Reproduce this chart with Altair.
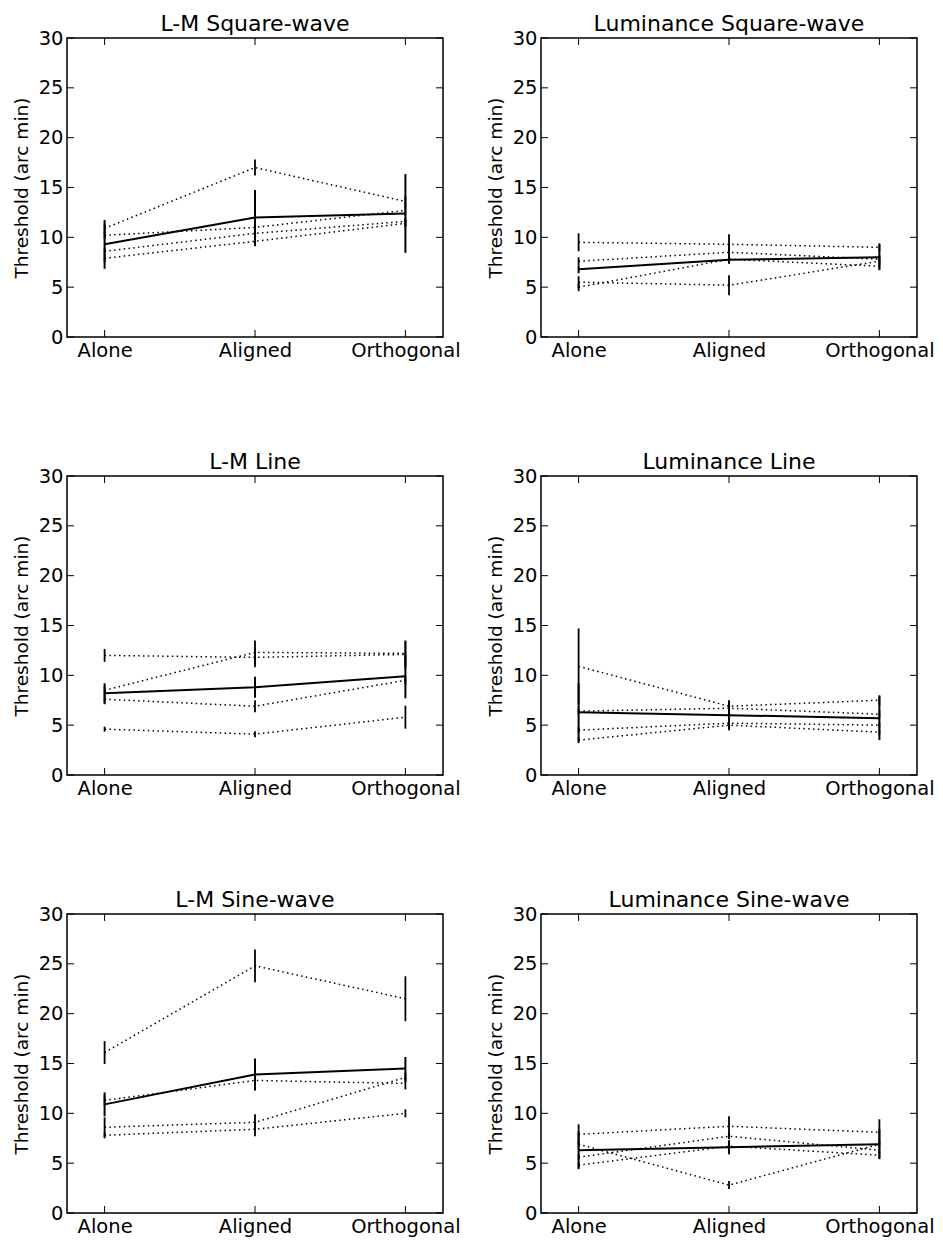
import altair as alt
import pandas as pd

conditions = ["Alone", "Aligned", "Orthogonal"]
y_ticks = [0, 5, 10, 15, 20, 25, 30]
x_ticks = [0, 1, 2]

panel_titles = ["L-M Square-wave", "Luminance Square-wave", "L-M Line",
                "Luminance Line", "L-M Sine-wave", "Luminance Sine-wave"]

# ---- L-M Square-wave
lm_square_mean = [9.3, 12.0, 12.4]
lm_square_mean_err = [2.45, 2.75, 3.95]
lm_square_subj = [[10.9, 17.0, 13.6], [10.2, 11.0, 12.7], [8.6, 10.4, 11.6], [7.9, 9.6, 11.4]]
lm_square_subj_err = [[0.5, 0.8, 0.5], [0.4, 0.5, 0.5], [0.4, 0.5, 0.4], [0.4, 0.5, 0.4]]

# ---- Luminance Square-wave
lum_square_mean = [6.8, 7.75, 8.0]
lum_square_mean_err = [0.4, 0.4, 1.3]
lum_square_subj = [[9.5, 9.3, 9.0], [7.6, 8.5, 7.8], [5.5, 5.2, 7.6], [5.0, 7.8, 7.1]]
lum_square_subj_err = [[0.9, 1.0, 0.4], [0.4, 0.8, 0.4], [0.6, 1.0, 0.4], [0.4, 0.4, 0.3]]

# ---- L-M Line
lm_line_mean = [8.2, 8.8, 9.9]
lm_line_mean_err = [1.0, 1.05, 2.2]
lm_line_subj = [[12.0, 11.8, 12.1], [8.5, 12.3, 12.2], [7.6, 6.9, 9.5], [4.6, 4.1, 5.8]]
lm_line_subj_err = [[0.65, 1.0, 1.4], [0.4, 1.2, 1.2], [0.5, 0.6, 0.4], [0.25, 0.3, 1.15]]

# ---- Luminance Line
lum_line_mean = [6.3, 6.0, 5.7]
lum_line_mean_err = [2.9, 1.5, 2.2]
lum_line_subj = [[10.9, 6.9, 7.5], [6.4, 6.7, 6.1], [4.5, 5.2, 5.0], [3.5, 5.0, 4.3]]
lum_line_subj_err = [[3.8, 0.5, 0.5], [0.3, 0.4, 0.4], [0.3, 0.3, 0.3], [0.3, 0.3, 0.3]]

# ---- L-M Sine-wave
lm_sine_mean = [10.9, 13.9, 14.5]
lm_sine_mean_err = [1.2, 1.6, 1.15]
lm_sine_subj = [[16.1, 24.8, 21.5], [11.3, 13.3, 13.0], [8.6, 9.1, 13.6], [7.8, 8.4, 10.0]]
lm_sine_subj_err = [[1.15, 1.65, 2.25], [0.5, 0.5, 0.6], [1.0, 0.8, 0.5], [0.3, 0.7, 0.4]]

# ---- Luminance Sine-wave
lum_sine_mean = [6.3, 6.6, 6.9]
lum_sine_mean_err = [1.9, 0.7, 1.5]
lum_sine_subj = [[7.9, 8.7, 8.1], [6.9, 2.8, 6.9], [5.6, 7.7, 6.3], [4.8, 6.7, 5.8]]
lum_sine_subj_err = [[1.0, 1.0, 1.3], [0.3, 0.4, 0.3], [0.3, 0.3, 0.3], [0.3, 0.3, 0.3]]

panels_data = [
    (lm_square_mean, lm_square_mean_err, lm_square_subj, lm_square_subj_err),
    (lum_square_mean, lum_square_mean_err, lum_square_subj, lum_square_subj_err),
    (lm_line_mean, lm_line_mean_err, lm_line_subj, lm_line_subj_err),
    (lum_line_mean, lum_line_mean_err, lum_line_subj, lum_line_subj_err),
    (lm_sine_mean, lm_sine_mean_err, lm_sine_subj, lm_sine_subj_err),
    (lum_sine_mean, lum_sine_mean_err, lum_sine_subj, lum_sine_subj_err),
]

W, H = 376, 299
TICK = 7
FONT = "DejaVu Sans"

label_expr = "[" + ",".join("'%s'" % c for c in conditions) + "][datum.value]"

x_scale = alt.Scale(domain=[-0.25, 2.25], nice=False, zero=False)
y_scale = alt.Scale(domain=[0, 30], nice=False, zero=False)
x_axis = alt.Axis(values=x_ticks, labelExpr=label_expr, title=None, ticks=False,
                  domain=False, grid=False, labelFontSize=19.5, labelFont=FONT,
                  labelColor="black", labelPadding=4)
y_axis = alt.Axis(values=y_ticks, title="Threshold (arc min)", ticks=False, domain=False,
                  grid=False, labelFontSize=19.5, labelFont=FONT, labelColor="black",
                  labelPadding=4, titleFontSize=18.5, titleFont=FONT,
                  titleFontWeight="normal", titleColor="black", titlePadding=7)


def X(field):
    return alt.X(field, scale=x_scale, axis=x_axis)


def Y(field):
    return alt.Y(field, scale=y_scale, axis=y_axis)


def make_panel(title, mean, mean_err, subj, subj_err):
    srows = []
    for si, (vals, errs) in enumerate(zip(subj, subj_err)):
        for ci, (v, e) in enumerate(zip(vals, errs)):
            srows.append({"s": "S%d" % (si + 1), "c": ci, "v": v, "lo": v - e, "hi": v + e})
    sdf = pd.DataFrame(srows)
    mdf = pd.DataFrame({"c": [0, 1, 2], "v": mean,
                        "lo": [m - e for m, e in zip(mean, mean_err)],
                        "hi": [m + e for m, e in zip(mean, mean_err)]})
    ydf = pd.DataFrame({"t": y_ticks})
    xdf = pd.DataFrame({"c": x_ticks})

    subj_lines = alt.Chart(sdf).mark_line(
        color="black", strokeWidth=1.5, strokeDash=[1.5, 3.3]
    ).encode(x=X("c:Q"), y=Y("v:Q"), detail="s:N")
    subj_bars = alt.Chart(sdf).mark_rule(color="black", strokeWidth=1.8).encode(
        x=X("c:Q"), y=Y("lo:Q"), y2="hi:Q")
    mean_line = alt.Chart(mdf).mark_line(color="black", strokeWidth=2).encode(
        x=X("c:Q"), y=Y("v:Q"))
    mean_bars = alt.Chart(mdf).mark_rule(color="black", strokeWidth=2).encode(
        x=X("c:Q"), y=Y("lo:Q"), y2="hi:Q")

    yt_left = alt.Chart(ydf).mark_rule(color="black", strokeWidth=1).encode(
        y=Y("t:Q"), x=alt.value(0), x2=alt.value(TICK))
    yt_right = alt.Chart(ydf).mark_rule(color="black", strokeWidth=1).encode(
        y=Y("t:Q"), x=alt.value(W - TICK), x2=alt.value(W))
    xt_bottom = alt.Chart(xdf).mark_rule(color="black", strokeWidth=1).encode(
        x=X("c:Q"), y=alt.value(H - TICK), y2=alt.value(H))
    xt_top = alt.Chart(xdf).mark_rule(color="black", strokeWidth=1).encode(
        x=X("c:Q"), y=alt.value(0), y2=alt.value(TICK))

    return alt.layer(
        yt_left, yt_right, xt_bottom, xt_top,
        subj_lines, subj_bars, mean_line, mean_bars
    ).properties(
        width=W, height=H,
        title=alt.TitleParams(text=title, fontSize=22, font=FONT, fontWeight="normal",
                              color="black", baseline="alphabetic", offset=-25,
                              frame="group")
    )


panels = [make_panel(t, *d) for t, d in zip(panel_titles, panels_data)]

chart = alt.concat(
    *panels, columns=2, spacing={"row": 139, "column": 98}, bounds="flush"
).properties(
    padding={"left": 3, "top": 4, "right": 0, "bottom": 0}
).configure_view(
    stroke="black", strokeWidth=1.5
)

chart.save("out.html", embed_options={"renderer": "svg", "actions": False})
